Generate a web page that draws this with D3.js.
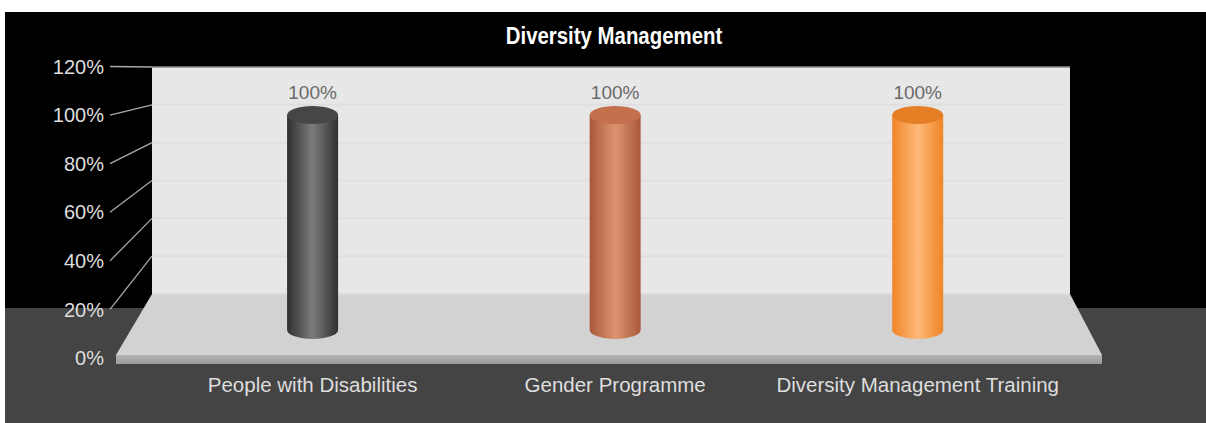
<!DOCTYPE html>
<html>
<head>
<meta charset="utf-8">
<script src="https://cdn.jsdelivr.net/npm/d3@7"></script>
<style>
html,body{margin:0;padding:0;background:#fff;}
svg{display:block;}
text{font-family:"Liberation Sans",Arial,sans-serif;}
</style>
</head>
<body>
<svg id="chart" width="1206" height="423"></svg>
<script>
const chartTitle = "Diversity Management";
const categories = ["People with Disabilities", "Gender Programme", "Diversity Management Training"];
const values = [100, 100, 100];
const axisTicks = [0, 20, 40, 60, 80, 100, 120];
const palettes = [
  {edge: "#303030", mid: "#7c7c7c", top: "#464646"},
  {edge: "#a9583a", mid: "#dc9470", top: "#c4704c"},
  {edge: "#f08528", mid: "#fdb878", top: "#e67e26"}
];

const svg = d3.select("#chart");
const defs = svg.append("defs");

// Three depths of the pseudo-3D box share the same value domain.
const frontY = d3.scaleLinear().domain([0, 120]).range([358, 66.5]);
const wallY = d3.scaleLinear().domain([0, 120]).range([294, 67]);
const barY = d3.scaleLinear().domain([0, 120]).range([330, 72]);
const x = d3.scaleBand().domain(categories).range([161.3, 1069]);

const wall = {left: 152, right: 1070};
const floor = {left: 116, right: 1102, front: 355, strip: 364};
const barWidth = 51, capRy = 9;

// Backdrop
svg.append("rect").attr("x", 5).attr("y", 12).attr("width", 1201).attr("height", 296).attr("fill", "#000");
svg.append("rect").attr("x", 5).attr("y", 308).attr("width", 1201).attr("height", 115).attr("fill", "#444");

// Back wall and floor
svg.append("rect").attr("x", wall.left).attr("y", wallY(120)).attr("width", wall.right - wall.left)
  .attr("height", wallY(0) - wallY(120)).attr("fill", "#e7e7e7");
svg.append("line").attr("x1", wall.left).attr("x2", wall.right).attr("y1", wallY(120)).attr("y2", wallY(120))
  .attr("stroke", "#8a8a8a").attr("stroke-width", 1.5);

const floorPts = [[wall.left, wallY(0)], [wall.right, wallY(0)], [floor.right, floor.front], [floor.left, floor.front]];
svg.append("polygon").attr("points", floorPts.join(" ")).attr("fill", "#d2d2d2");
svg.append("rect").attr("x", wall.left).attr("y", wallY(0) - 1).attr("width", wall.right - wall.left).attr("height", 2).attr("fill", "#dcdcdc");

const stripGrad = defs.append("linearGradient").attr("id", "strip").attr("x1", 0).attr("x2", 0).attr("y1", 0).attr("y2", 1);
stripGrad.append("stop").attr("offset", 0).attr("stop-color", "#b4b4b4");
stripGrad.append("stop").attr("offset", 1).attr("stop-color", "#9a9a9a");
svg.append("rect").attr("x", floor.left).attr("y", floor.front).attr("width", floor.right - floor.left)
  .attr("height", floor.strip - floor.front).attr("fill", "url(#strip)");

// Gridlines on the wall
svg.append("g").selectAll("line").data(axisTicks.filter(d => d > 0 && d < 120)).join("line")
  .attr("x1", wall.left).attr("x2", wall.right - 5)
  .attr("y1", d => wallY(d)).attr("y2", d => wallY(d))
  .attr("stroke", "#dfdfdf").attr("stroke-width", 2);

// Leader ticks run from the label column to the back wall
svg.append("g").selectAll("line").data(axisTicks.filter(d => d > 0)).join("line")
  .attr("x1", 110).attr("x2", wall.left)
  .attr("y1", d => frontY(d)).attr("y2", d => wallY(d))
  .attr("stroke", "#a8a8a8").attr("stroke-width", 1.3);

// Axis labels
svg.append("g").selectAll("text").data(axisTicks).join("text")
  .attr("x", 104).attr("y", d => frontY(d)).attr("dy", "0.36em")
  .attr("text-anchor", "end").attr("font-size", 20)
  .attr("fill", "#dedede").text(d => d + "%");

// Cylinders
palettes.forEach((p, i) => {
  const g = defs.append("linearGradient").attr("id", "cyl" + i);
  g.append("stop").attr("offset", 0).attr("stop-color", p.edge);
  g.append("stop").attr("offset", 0.5).attr("stop-color", p.mid);
  g.append("stop").attr("offset", 1).attr("stop-color", p.edge);
});

const bars = svg.append("g").selectAll("g").data(categories).join("g")
  .attr("transform", d => `translate(${x(d) + x.bandwidth() / 2},0)`);

bars.append("path")
  .attr("d", (d, i) => {
    const r = barWidth / 2, top = barY(values[i]), bottom = barY(0);
    return `M${-r},${top}L${-r},${bottom}A${r},${capRy} 0 0 0 ${r},${bottom}L${r},${top}Z`;
  })
  .attr("fill", (d, i) => `url(#cyl${i})`);

bars.append("ellipse")
  .attr("cy", (d, i) => barY(values[i]))
  .attr("rx", barWidth / 2).attr("ry", capRy)
  .attr("fill", (d, i) => palettes[i].top);

bars.append("text")
  .attr("y", (d, i) => barY(values[i]) - 16)
  .attr("text-anchor", "middle").attr("font-size", 19)
  .attr("fill", "#6a6a6a").text((d, i) => values[i] + "%");

// Category labels
svg.append("g").selectAll("text").data(categories).join("text")
  .attr("x", d => x(d) + x.bandwidth() / 2).attr("y", 392)
  .attr("text-anchor", "middle").attr("font-size", 20.5)
  .attr("fill", "#dedede").text(d => d);

// Title
svg.append("text").attr("transform", "translate(614,44) scale(0.85,1)")
  .attr("text-anchor", "middle").attr("font-size", 24).attr("font-weight", "bold")
  .attr("fill", "#fff").text(chartTitle);
</script>
</body>
</html>
